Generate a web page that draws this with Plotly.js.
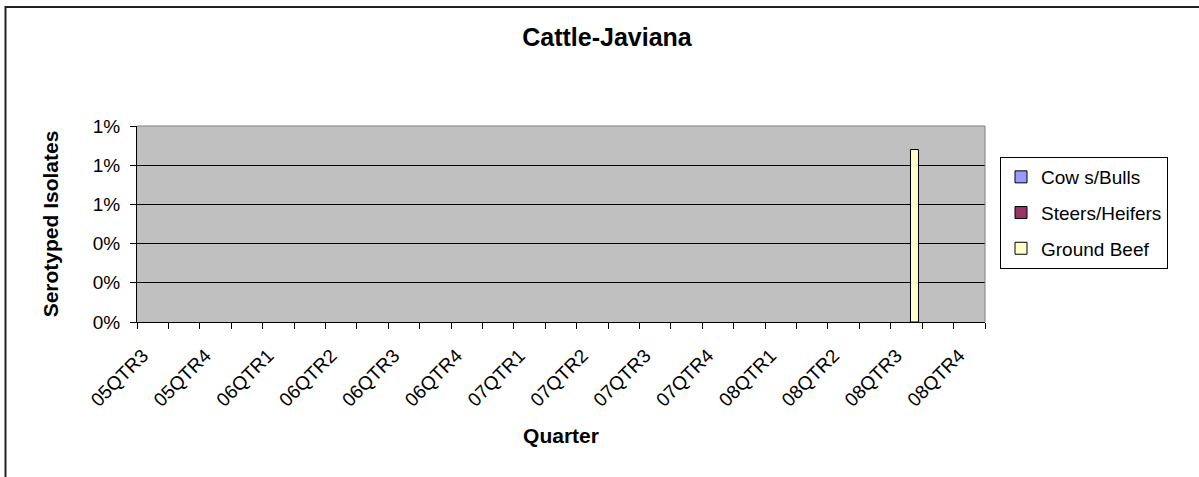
<!DOCTYPE html>
<html>
<head>
<meta charset="utf-8">
<script src="https://cdn.plot.ly/plotly-3.0.1.min.js"></script>
<style>
html, body { margin: 0; padding: 0; background: #fff; }
#chart { width: 1199px; height: 477px; }
</style>
</head>
<body>
<div id="chart"></div>
<script>
// Tick labels shown on the x axis (every other category slot)
const quarterLabels = ['05QTR3','05QTR4','06QTR1','06QTR2','06QTR3','06QTR4','07QTR1','07QTR2','07QTR3','07QTR4','08QTR1','08QTR2','08QTR3','08QTR4'];
// 27 category slots on the axis; labelled slots are the even ones
const slotCount = 27;
// Series values (fraction of serotyped isolates), one per slot
const cowsBulls     = [0,0,0,0,0,0,0,0,0,0,0,0,0,0,0,0,0,0,0,0,0,0,0,0,0,0,0];
const steersHeifers = [0,0,0,0,0,0,0,0,0,0,0,0,0,0,0,0,0,0,0,0,0,0,0,0,0,0,0];
const groundBeef    = [0,0,0,0,0,0,0,0,0,0,0,0,0,0,0,0,0,0,0,0,0,0,0,0,0.0088,0,0];
const seriesNames = ['Cow s/Bulls','Steers/Heifers','Ground Beef'];
const seriesColors = ['#9999FF','#993366','#FFFFCC'];

const slots = Array.from({length: slotCount}, (_, i) => i);
const labelPositions = quarterLabels.map((_, i) => i * 2);

const FONT = 'Arial, "Liberation Sans", sans-serif';

// zero values are left empty so no outline is stroked for them (as in the original)
const traces = [cowsBulls, steersHeifers, groundBeef].map((vals, k) => ({
  type: 'bar',
  name: seriesNames[k],
  x: slots,
  y: vals.map(v => v === 0 ? null : v),
  legendgroup: 'g' + k,
  marker: { color: seriesColors[k], line: { color: '#000000', width: 1 } },
  hoverinfo: 'skip'
}));

// plot area in pixels
const L = 137, R = 985, T = 126, B = 322, W = 1199, H = 477;
const px = x => (x - L) / (R - L);
const py = y => (B - y) / (B - T);

const layout = {
  width: W, height: H,
  margin: { l: L, r: W - R, t: T, b: H - B, pad: 0 },
  paper_bgcolor: '#FFFFFF',
  plot_bgcolor: '#C0C0C0',
  font: { family: FONT, size: 19, color: '#000000' },
  barmode: 'group',
  bargap: 0.235,
  bargroupgap: 0,
  showlegend: true,
  title: {
    text: '<b>Cattle-Javiana</b>',
    font: { family: FONT, size: 25, color: '#000000' },
    x: 607 / W, xref: 'container', xanchor: 'center',
    y: 1 - 37 / H, yref: 'container', yanchor: 'middle'
  },
  xaxis: {
    type: 'linear',
    range: [-0.5, slotCount - 0.5],
    tickmode: 'array',
    tickvals: labelPositions,
    ticktext: quarterLabels,
    tickangle: -45,
    ticks: '',
    ticklabelstandoff: 14,
    ticklabelshift: -10,
    tickfont: { family: FONT, size: 19, color: '#000000' },
    showgrid: false,
    zeroline: false,
    showline: true,
    linecolor: '#000000',
    linewidth: 1,
    minor: { tickmode: 'linear', tick0: -0.5, dtick: 1, ticks: 'outside', ticklen: 6, tickcolor: '#000000', tickwidth: 1, showgrid: false },
    automargin: false,
    fixedrange: true,
    title: { text: '<b>Quarter</b>', font: { family: FONT, size: 21, color: '#000000' }, standoff: 18 }
  },
  yaxis: {
    range: [0, 0.01],
    tickmode: 'linear',
    tick0: 0,
    dtick: 0.002,
    tickformat: '.0%',
    ticks: 'outside',
    ticklen: 6,
    tickcolor: '#000000',
    ticklabelstandoff: 6,
    tickfont: { family: FONT, size: 19, color: '#000000' },
    showgrid: true,
    gridcolor: '#000000',
    gridwidth: 1,
    zeroline: false,
    showline: true,
    linecolor: '#000000',
    linewidth: 1,
    automargin: false,
    fixedrange: true,
    title: { text: '<b>Serotyped Isolates</b>', font: { family: FONT, size: 21, color: '#000000' }, standoff: 28 }
  },
  legend: {
    x: px(1000), xanchor: 'left',
    y: py(157), yanchor: 'top',
    bgcolor: '#FFFFFF',
    bordercolor: '#000000',
    borderwidth: 1,
    font: { family: FONT, size: 19, color: '#000000' },
    tracegroupgap: 8,
    itemwidth: 30,
    traceorder: 'grouped'
  },
  shapes: [
    // plot-area frame (top and right, grey)
    { type: 'path', xref: 'paper', yref: 'paper', path: 'M0,1 L1,1 L1,0', line: { color: '#808080', width: 1 }, layer: 'above' },
    // outer chart frame (left and top visible)
    { type: 'path', xref: 'paper', yref: 'paper',
      path: 'M' + px(1260) + ',' + py(7) + ' L' + px(5.5) + ',' + py(7) + ' L' + px(5.5) + ',' + py(540),
      line: { color: '#222222', width: 2 }, layer: 'above' }
  ]
};

Plotly.newPlot('chart', traces, layout, { displayModeBar: false, staticPlot: true });
</script>
</body>
</html>
